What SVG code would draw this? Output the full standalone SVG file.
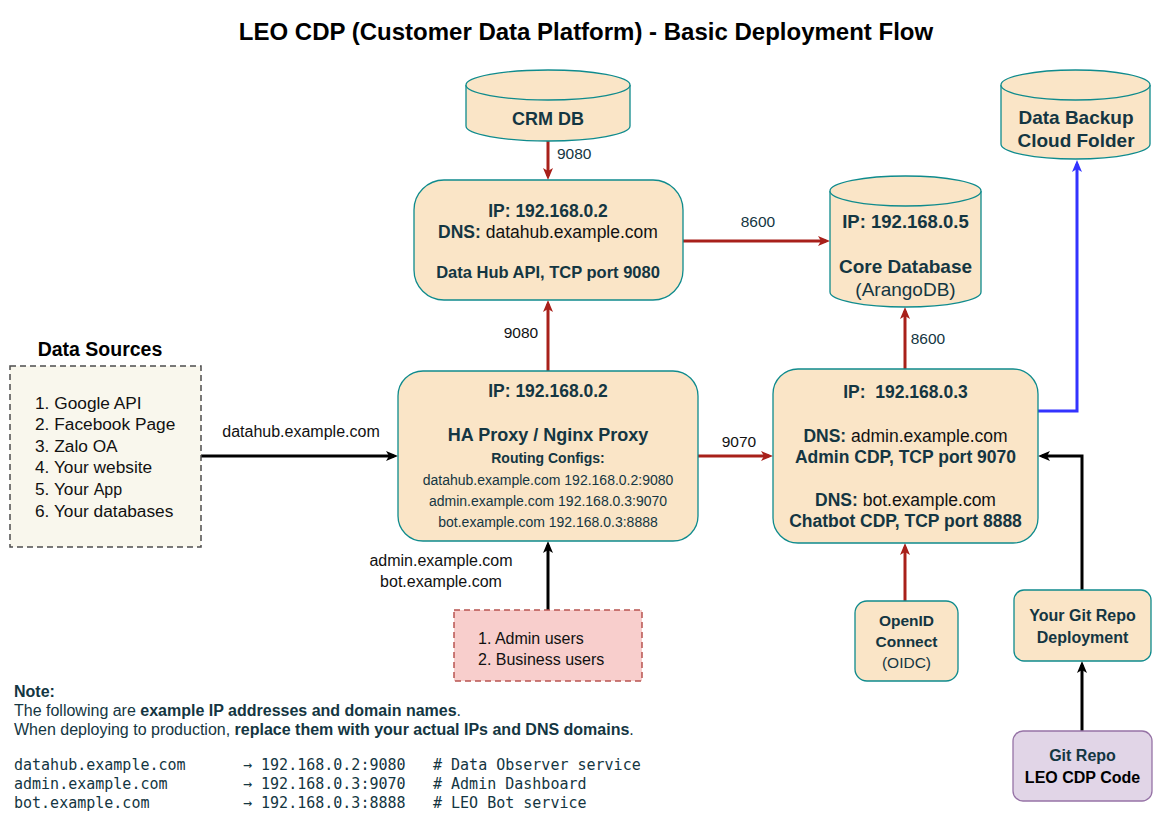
<svg xmlns="http://www.w3.org/2000/svg" width="1153" height="827" viewBox="0 0 1153 827">
<style>
text{font-family:"Liberation Sans",Arial,sans-serif;fill:#143642}
.b{font-weight:bold}
.k{fill:#111111}
.node{fill:#FAE5C7;stroke:#0F8B8D;stroke-width:1.3}
.cr{fill:none;stroke:#A8201A;stroke-width:3}
.ck{fill:none;stroke:#000000;stroke-width:3}
.cb{fill:none;stroke:#3333FF;stroke-width:3}
.mono{font-family:"DejaVu Sans Mono","Liberation Mono",monospace;font-size:15px}
.lbl{font-size:15.5px}
</style>
<defs>
<marker id="mr" viewBox="0 0 12 10" refX="8" refY="5" markerWidth="12" markerHeight="10" orient="auto" markerUnits="userSpaceOnUse"><path d="M0,0 L12,5 L0,10 L3,5 z" fill="#A8201A"/></marker>
<marker id="mk" viewBox="0 0 12 10" refX="8" refY="5" markerWidth="12" markerHeight="10" orient="auto" markerUnits="userSpaceOnUse"><path d="M0,0 L12,5 L0,10 L3,5 z" fill="#000000"/></marker>
<marker id="mb" viewBox="0 0 12 10" refX="8" refY="5" markerWidth="12" markerHeight="10" orient="auto" markerUnits="userSpaceOnUse"><path d="M0,0 L12,5 L0,10 L3,5 z" fill="#3333FF"/></marker>
</defs>

<text x="586" y="40" text-anchor="middle" class="b" style="font-size:24px;fill:#000">LEO CDP (Customer Data Platform) - Basic Deployment Flow</text>

<g id="connectors">
<path class="cr" d="M548,140 L548,176" marker-end="url(#mr)"/>
<path class="cr" d="M683,241 L826,241" marker-end="url(#mr)"/>
<path class="cb" d="M1038,411 L1077,411 L1077,164" marker-end="url(#mb)"/>
<path class="ck" d="M201,456 L394,456" marker-end="url(#mk)"/>
<path class="cr" d="M548,371 L548,304" marker-end="url(#mr)"/>
<path class="cr" d="M698,456 L769,456" marker-end="url(#mr)"/>
<path class="cr" d="M905,369 L905,311" marker-end="url(#mr)"/>
<path class="ck" d="M548,610 L548,545" marker-end="url(#mk)"/>
<path class="cr" d="M905,601 L905,547" marker-end="url(#mr)"/>
<path class="ck" d="M1082,590 L1082,456 L1042,456" marker-end="url(#mk)"/>
<path class="ck" d="M1082,731 L1082,665" marker-end="url(#mk)"/>
<text x="557" y="159" class="lbl">9080</text>
<text x="758" y="227" text-anchor="middle" class="lbl">8600</text>
<text x="301" y="437" text-anchor="middle" class="k" style="font-size:16px">datahub.example.com</text>
<text x="521" y="338" text-anchor="middle" class="k lbl">9080</text>
<text x="739" y="447" text-anchor="middle" class="k lbl">9070</text>
<text x="928" y="344" text-anchor="middle" class="lbl">8600</text>
<text x="441" y="566" text-anchor="middle" class="k" style="font-size:16px">admin.example.com</text>
<text x="441" y="587" text-anchor="middle" class="k" style="font-size:16px">bot.example.com</text>
</g>

<g id="crm-db">
<path class="node" d="M466,85 L466,126 A82,15 0 0 0 630,126 L630,85"/>
<ellipse class="node" cx="548" cy="85" rx="82" ry="15"/>
<text x="548" y="125" text-anchor="middle" class="b" style="font-size:18px">CRM DB</text>
</g>

<g id="datahub">
<rect class="node" x="414" y="180" width="269" height="120" rx="30"/>
<text x="548" y="217" text-anchor="middle" class="b" style="font-size:17.5px">IP: 192.168.0.2</text>
<text x="548" y="238" text-anchor="middle" style="font-size:17.5px"><tspan class="b">DNS:</tspan><tspan class="k"> datahub.example.com</tspan></text>
<text x="548" y="278" text-anchor="middle" class="b" style="font-size:16.5px">Data Hub API, TCP port 9080</text>
</g>

<g id="core-db">
<path class="node" d="M830,191 L830,292 A75.5,15 0 0 0 981,292 L981,191"/>
<ellipse class="node" cx="905.5" cy="191" rx="75.5" ry="15"/>
<text x="905.5" y="228" text-anchor="middle" class="b" style="font-size:18.5px">IP: 192.168.0.5</text>
<text x="905.5" y="273" text-anchor="middle" class="b" style="font-size:19px">Core Database</text>
<text x="905.5" y="296" text-anchor="middle" style="font-size:19px">(ArangoDB)</text>
</g>

<g id="backup">
<path class="node" d="M1001,85 L1001,144 A74.5,15 0 0 0 1150,144 L1150,85"/>
<ellipse class="node" cx="1075.5" cy="85" rx="74.5" ry="15"/>
<text x="1076" y="124" text-anchor="middle" class="b" style="font-size:19px">Data Backup</text>
<text x="1076" y="147" text-anchor="middle" class="b" style="font-size:19px">Cloud Folder</text>
</g>

<g id="data-sources">
<text x="100" y="356" text-anchor="middle" class="b" style="font-size:19.5px;fill:#000">Data Sources</text>
<rect x="10" y="366" width="191" height="181" fill="#F9F7ED" stroke="#4D4D4D" stroke-width="1.5" stroke-dasharray="6,4"/>
<g style="font-size:17.3px">
<text x="35" y="409" class="k">1. Google API</text>
<text x="35" y="430" class="k">2. Facebook Page</text>
<text x="35" y="452" class="k">3. Zalo OA</text>
<text x="35" y="473" class="k">4. Your website</text>
<text x="35" y="495" class="k">5. Your <tspan style="font-size:16px">App</tspan></text>
<text x="35" y="517" class="k">6. Your databases</text>
</g>
</g>

<g id="proxy">
<rect class="node" x="398" y="371" width="300" height="170" rx="25"/>
<text x="548" y="397" text-anchor="middle" class="b" style="font-size:17.5px">IP: 192.168.0.2</text>
<text x="548" y="441" text-anchor="middle" class="b" style="font-size:18px">HA Proxy / Nginx Proxy</text>
<text x="548" y="463" text-anchor="middle" class="b" style="font-size:14px">Routing Configs:</text>
<text x="548" y="485" text-anchor="middle" style="font-size:14px">datahub.example.com 192.168.0.2:9080</text>
<text x="548" y="506" text-anchor="middle" style="font-size:14px">admin.example.com 192.168.0.3:9070</text>
<text x="548" y="527" text-anchor="middle" style="font-size:14px">bot.example.com 192.168.0.3:8888</text>
</g>

<g id="admin-cdp">
<rect class="node" x="773" y="369" width="265" height="174" rx="25"/>
<text x="905.5" y="398" text-anchor="middle" class="b" style="font-size:17.5px">IP:&#160; 192.168.0.3</text>
<text x="905.5" y="442" text-anchor="middle" style="font-size:17.5px"><tspan class="b">DNS:</tspan><tspan class="k"> admin.example.com</tspan></text>
<text x="905.5" y="463" text-anchor="middle" class="b" style="font-size:17.5px">Admin CDP, TCP port 9070</text>
<text x="905.5" y="506" text-anchor="middle" style="font-size:17.5px"><tspan class="b">DNS:</tspan><tspan class="k"> bot.example.com</tspan></text>
<text x="905.5" y="527" text-anchor="middle" class="b" style="font-size:17.5px">Chatbot CDP, TCP port 8888</text>
</g>

<g id="users">
<rect x="454" y="610" width="188" height="71" fill="#F8CECC" stroke="#B85450" stroke-width="1.5" stroke-dasharray="6,4"/>
<text x="478" y="644" class="k" style="font-size:16px">1. Admin users</text>
<text x="478" y="665" class="k" style="font-size:16px">2. Business users</text>
</g>

<g id="oidc">
<rect class="node" x="855" y="601" width="103" height="80" rx="12"/>
<text x="906.5" y="626" text-anchor="middle" class="b" style="font-size:15.5px">OpenID</text>
<text x="906.5" y="647" text-anchor="middle" class="b" style="font-size:15.5px">Connect</text>
<text x="906.5" y="668" text-anchor="middle" style="font-size:15.5px">(OIDC)</text>
</g>

<g id="git-deploy">
<rect class="node" x="1014" y="590" width="137" height="71" rx="10"/>
<text x="1082.5" y="621" text-anchor="middle" class="b" style="font-size:16px">Your Git Repo</text>
<text x="1082.5" y="643" text-anchor="middle" class="b" style="font-size:16px">Deployment</text>
</g>

<g id="git-repo">
<rect x="1013" y="731" width="139" height="70" rx="10" fill="#E1D5E7" stroke="#9673A6" stroke-width="1.3"/>
<text x="1082.5" y="761" text-anchor="middle" class="b" style="font-size:16px">Git Repo</text>
<text x="1082.5" y="783" text-anchor="middle" class="b" style="font-size:16px;fill:#000">LEO CDP Code</text>
</g>

<g id="note">
<text x="14" y="697" class="b" style="font-size:16px">Note:</text>
<text x="14" y="716" style="font-size:16px">The following are <tspan class="b">example IP addresses and domain names</tspan>.</text>
<text x="14" y="735" style="font-size:16px">When deploying to production, <tspan class="b">replace them with your actual IPs and DNS domains</tspan>.</text>
<text class="mono" y="770"><tspan x="14">datahub.example.com</tspan><tspan x="243">→ 192.168.0.2:9080</tspan><tspan x="433"># Data Observer service</tspan></text>
<text class="mono" y="789"><tspan x="14">admin.example.com</tspan><tspan x="243">→ 192.168.0.3:9070</tspan><tspan x="433"># Admin Dashboard</tspan></text>
<text class="mono" y="808"><tspan x="14">bot.example.com</tspan><tspan x="243">→ 192.168.0.3:8888</tspan><tspan x="433"># LEO Bot service</tspan></text>
</g>
</svg>
